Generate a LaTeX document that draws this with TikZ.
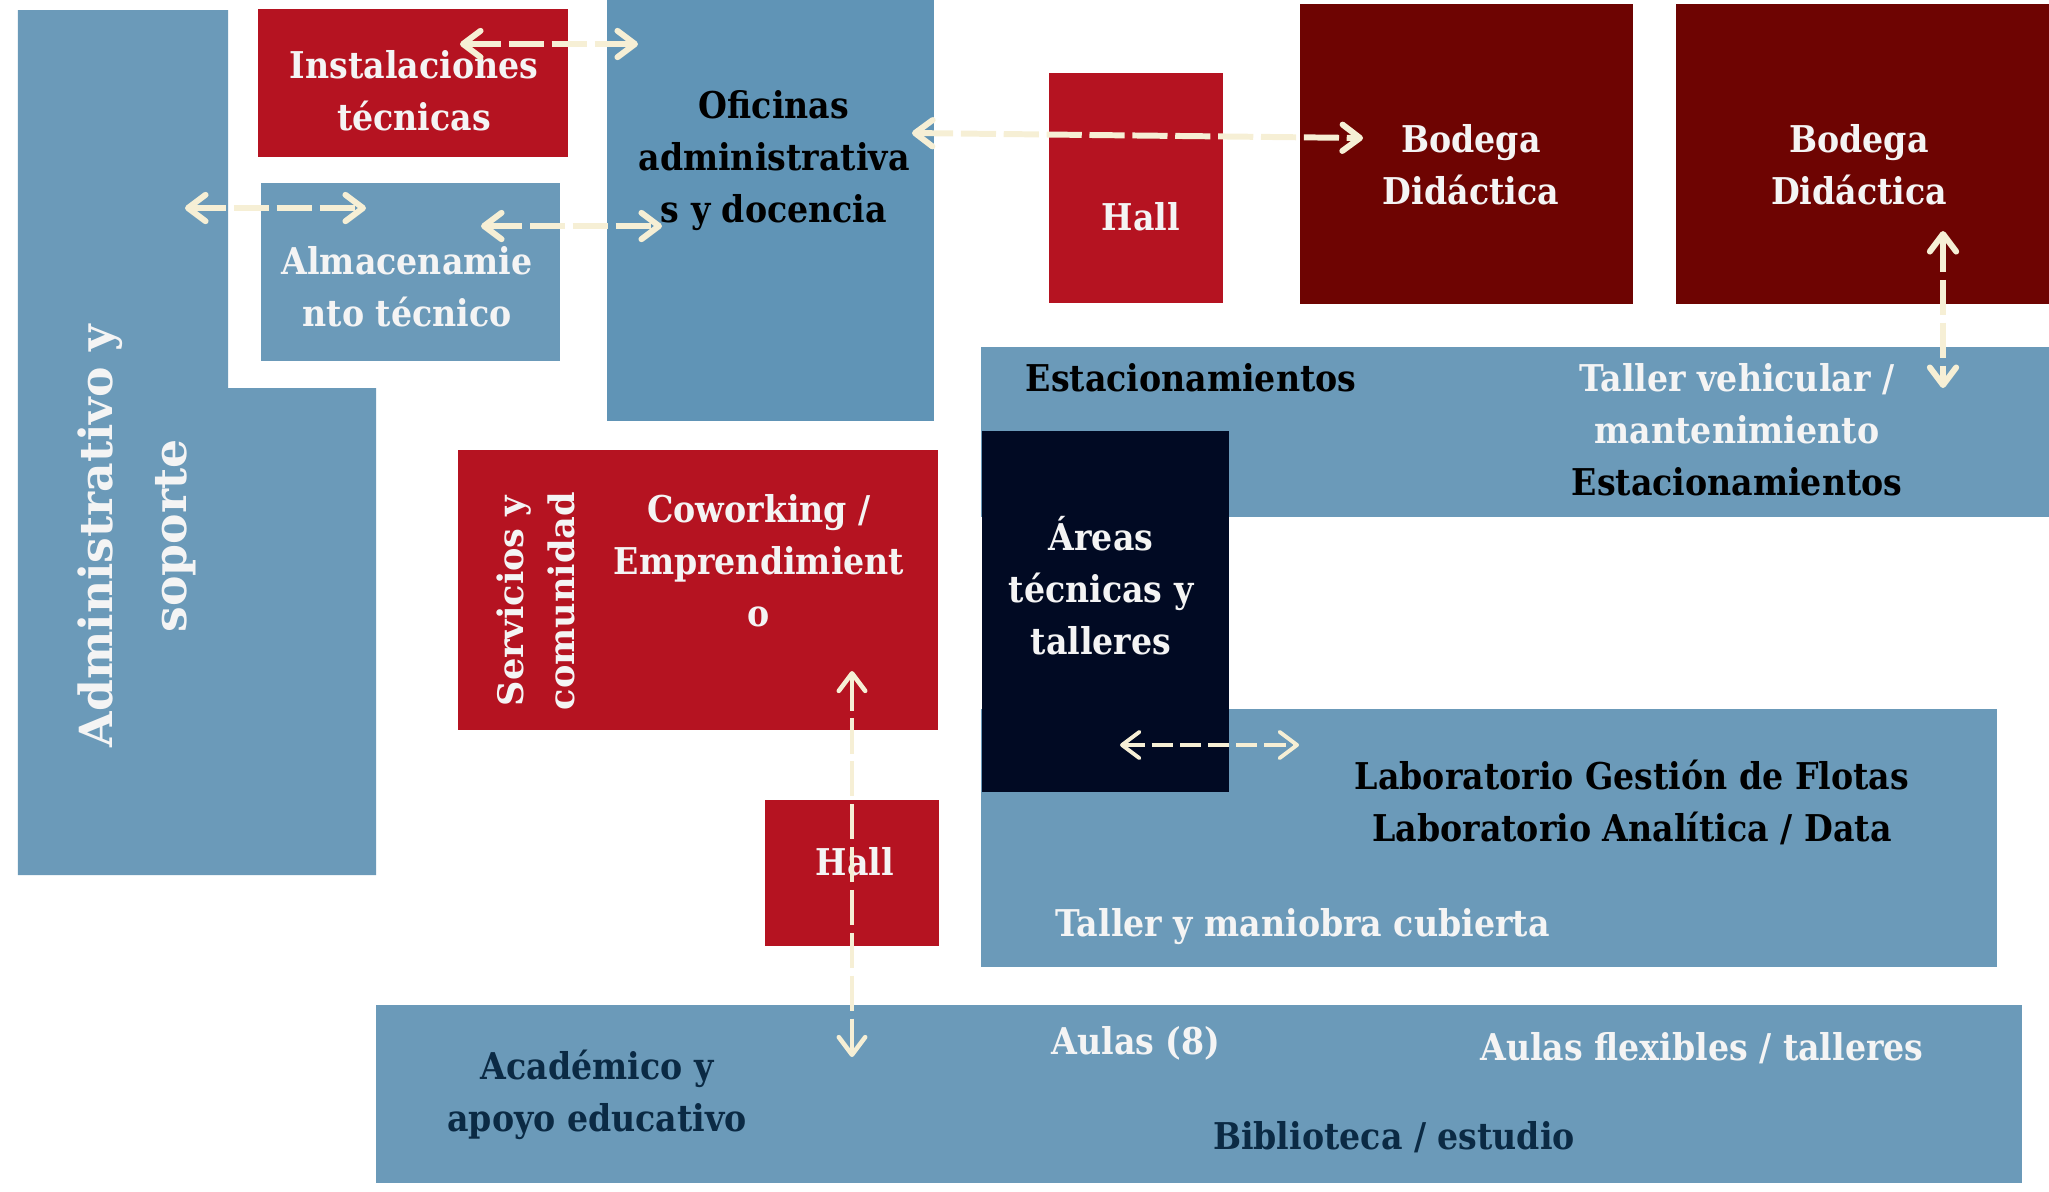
\documentclass[tikz,border=0pt]{standalone}
\usepackage{fontspec}
\setmainfont{DejaVu Serif Condensed}
\newfontfamily\widefont{DejaVu Serif}
\usepackage{tikz}
\usetikzlibrary{arrows.meta}

\definecolor{azul}{HTML}{6B9AB9}
\definecolor{azulof}{HTML}{6094B6}
\definecolor{rojo}{HTML}{B51321}
\definecolor{vino}{HTML}{6E0402}
\definecolor{noche}{HTML}{010A23}
\definecolor{crema}{HTML}{F6EFD5}
\definecolor{tinta}{HTML}{0B2A44}
\definecolor{blanco}{HTML}{F4F4F4}

\begin{document}
\begin{tikzpicture}[
  zone/.style={rectangle, inner sep=0, outer sep=0, anchor=north west},
  lbl/.style={align=center, inner sep=0, font=\bfseries\fontsize{10.5}{14.8}\selectfont},
  vlbl/.style={align=center, inner sep=0, rotate=90, font=\widefont\bfseries},
  flow/.style={draw=crema, line width=1.7pt, dash pattern=on 10pt off 2.2pt,
    {Straight Barb[round, length=5pt, width=7.5pt]}-{Straight Barb[round, length=5pt, width=7.5pt]}},
  thinflow/.style={flow, line width=1.1pt, dash pattern=on 6pt off 2pt}
]
\useasboundingbox (0,0) rectangle (20.49,-11.91);

% Zones
\fill[azul] (0.18,-0.10) -- (2.28,-0.10) -- (2.28,-3.88) -- (3.76,-3.88)
  -- (3.76,-8.75) -- (0.18,-8.75) -- cycle;
\coordinate (adm) at (1.37,-5.36);
\node[zone, fill=rojo, minimum width=3.10cm, minimum height=1.48cm] (inst) at (2.58,-0.09) {};
\node[zone, fill=azul, minimum width=2.99cm, minimum height=1.78cm] (alm) at (2.61,-1.83) {};
\node[zone, fill=azulof, minimum width=3.27cm, minimum height=4.21cm] (ofic) at (6.07,0) {};
\node[zone, fill=rojo, minimum width=1.74cm, minimum height=2.30cm] (hallA) at (10.49,-0.73) {};
\node[zone, fill=vino, minimum width=3.33cm, minimum height=3.00cm] (bod1) at (13.00,-0.04) {};
\node[zone, fill=vino, minimum width=3.73cm, minimum height=3.00cm] (bod2) at (16.76,-0.04) {};
\node[zone, fill=azul, minimum width=10.68cm, minimum height=1.70cm] (estac) at (9.81,-3.47) {};
\node[zone, fill=rojo, minimum width=4.80cm, minimum height=2.80cm] (cowo) at (4.58,-4.50) {};
\node[zone, fill=azul, minimum width=10.16cm, minimum height=2.58cm] (lab) at (9.81,-7.09) {};
\node[zone, fill=noche, minimum width=2.47cm, minimum height=3.61cm] (areas) at (9.82,-4.31) {};
\node[zone, fill=rojo, minimum width=1.74cm, minimum height=1.46cm] (hallB) at (7.65,-8.00) {};
\node[zone, fill=azul, minimum width=16.46cm, minimum height=1.78cm] (acad) at (3.76,-10.05) {};

% Labels
\node[vlbl, text=blanco, font=\widefont\bfseries\fontsize{13}{21}\selectfont] (admT) at (adm) {Administrativo y\\soporte};
\node[lbl, text=blanco] (instT) at (4.14,-0.91) {Instalaciones\\técnicas};
\node[lbl, text=blanco] (almT) at (4.07,-2.87) {Almacenamie\\nto técnico};
\node[lbl, text=black] (oficT) at (7.74,-1.61) {Oficinas\\administrativa\\s y docencia};
\node[lbl, text=blanco] (hallAT) at (11.41,-2.17) {Hall};
\node[lbl, text=blanco] (bod1T) at (14.71,-1.65) {Bodega\\Didáctica};
\node[lbl, text=blanco] (bod2T) at (18.59,-1.65) {Bodega\\Didáctica};
\node[lbl, text=black] (estacT) at (11.91,-3.78) {Estacionamientos};
\node[lbl] (tallT) at (17.37,-4.30) {\color{blanco}Taller vehicular /\\\color{blanco}mantenimiento\\\color{black}Estacionamientos};
\node[vlbl, text=blanco, font=\widefont\bfseries\fontsize{10}{14.5}\selectfont] (servT) at (5.36,-6.01) {Servicios y\\comunidad};
\node[lbl, text=blanco] (cowoT) at (7.59,-5.61) {Coworking /\\Emprendimient\\o};
\node[lbl, text=blanco] (areasT) at (11.01,-5.86) {Áreas\\técnicas y\\talleres};
\node[lbl, text=black] (labT) at (16.32,-8.02) {Laboratorio Gestión de Flotas\\Laboratorio Analítica / Data};
\node[lbl, text=blanco, anchor=west] (maniT) at (10.55,-9.27) {Taller y maniobra cubierta};
\node[lbl, text=blanco] (hallBT) at (8.55,-8.62) {Hall};
\node[lbl, text=blanco] (aulasT) at (11.36,-10.43) {Aulas (8)};
\node[lbl, text=blanco] (flexT) at (17.02,-10.48) {Aulas flexibles / talleres};
\node[lbl, text=tinta] (acadT) at (5.97,-10.95) {Académico y\\apoyo educativo};
\node[lbl, text=tinta] (biblT) at (13.94,-11.37) {Biblioteca / estudio};

% Arrow ends
\coordinate (p1) at (4.60,-0.44);  \coordinate (q1) at (6.38,-0.44);
\coordinate (p2) at (1.85,-2.08);  \coordinate (q2) at (3.66,-2.08);
\coordinate (p3) at (4.81,-2.26);  \coordinate (q3) at (6.62,-2.26);
\coordinate (p4) at (9.12,-1.33);  \coordinate (q4) at (13.63,-1.38);
\coordinate (p5) at (19.43,-2.31); \coordinate (q5) at (19.43,-3.88);
\coordinate (p6) at (11.20,-7.45); \coordinate (q6) at (12.99,-7.45);
\coordinate (p7) at (8.52,-6.71);  \coordinate (q7) at (8.52,-10.57);

% Arrows
\draw[flow] (p1) -- (q1);
\draw[flow] (p2) -- (q2);
\draw[flow] (p3) -- (q3);
\draw[flow] (p4) -- (q4);
\draw[flow] (p5) -- (q5);
\draw[thinflow] (p6) -- (q6);
\draw[flow, line width=1.3pt] (p7) -- (q7);

\end{tikzpicture}
\end{document}
